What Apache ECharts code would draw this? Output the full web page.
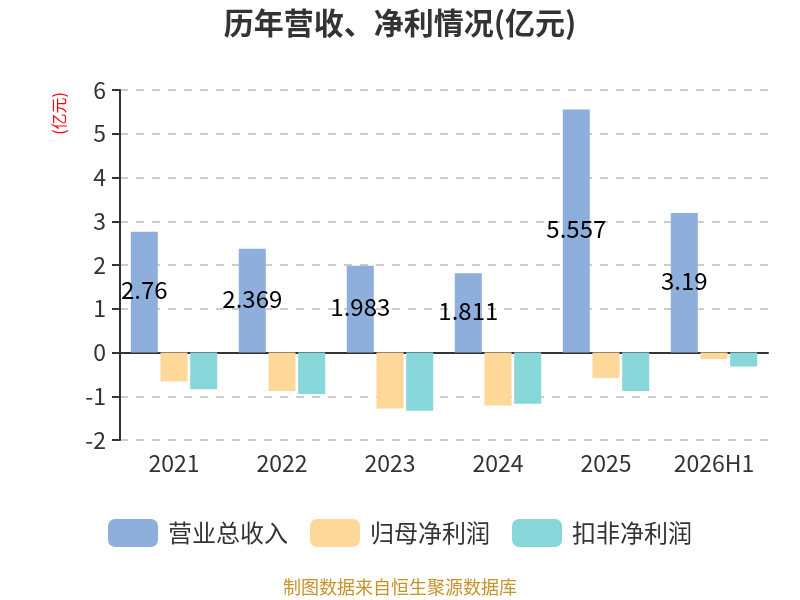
<!DOCTYPE html>
<html>
<head>
<meta charset="utf-8">
<script src="https://cdn.jsdelivr.net/npm/echarts@6/dist/echarts.min.js"></script>
<style>
    html, body { margin: 0; padding: 0; background: #fff; }
    #main { width: 800px; height: 600px; }
</style>
</head>
<body>
<div id="main"></div>
<script>
var years = ['2021', '2022', '2023', '2024', '2025', '2026H1'];
var revenue = [2.76, 2.369, 1.983, 1.811, 5.557, 3.19];
var netProfit = [-0.66, -0.88, -1.28, -1.21, -0.58, -0.15];
var deductedProfit = [-0.84, -0.95, -1.33, -1.17, -0.88, -0.32];
var seriesNames = ['营业总收入', '归母净利润', '扣非净利润'];

var myChart = echarts.init(document.getElementById('main'));
var font = '"Noto Sans CJK SC", "Noto Sans", sans-serif';

option = {
    textStyle: { fontFamily: font },
    title: {
        text: '历年营收、净利情况(亿元)',
        left: 'center',
        top: 3,
        textStyle: { fontSize: 30, fontWeight: 'bold', color: '#333', fontFamily: font }
    },
    color: ['#8eaedb', '#fed898', '#87d6d9'],
    legend: {
        data: seriesNames,
        bottom: 48,
        itemWidth: 50,
        itemHeight: 28,
        itemGap: 22,
        icon: 'roundRect',
        textStyle: { fontSize: 24, color: '#333', fontFamily: font, padding: [0, 0, 0, 5] }
    },
    grid: { left: 120, right: 32, top: 90, bottom: 160 },
    xAxis: {
        type: 'category',
        data: years,
        axisLine: { lineStyle: { color: '#333', width: 2 } },
        axisTick: { length: 7, lineStyle: { width: 2 } },
        axisLabel: { fontSize: 23, color: '#333', margin: 12 }
    },
    yAxis: {
        type: 'value',
        min: -2,
        max: 6,
        interval: 1,
        axisLine: { show: true, lineStyle: { color: '#333', width: 2 } },
        axisTick: { show: true, length: 8, lineStyle: { width: 2 } },
        axisLabel: { fontSize: 23, color: '#333', margin: 14 },
        splitLine: { lineStyle: { type: [8, 8], color: '#ccc', width: 2 } }
    },
    graphic: [{
        type: 'text',
        left: 51,
        top: 92,
        rotation: Math.PI / 2,
        style: { text: '(亿元)', fill: 'red', fontSize: 16, fontFamily: font }
    }, {
        type: 'text',
        left: 'center',
        top: 578,
        style: { text: '制图数据来自恒生聚源数据库', fill: '#c8922a', fontSize: 18, fontFamily: font }
    }],
    series: [{
        name: seriesNames[0],
        type: 'bar',
        data: revenue,
        barWidth: 27,
        barGap: '10%',
        label: { show: true, position: 'inside', color: '#000', fontSize: 24, offset: [0, -2] }
    }, {
        name: seriesNames[1],
        type: 'bar',
        data: netProfit,
        barWidth: 27,
        barGap: '10%'
    }, {
        name: seriesNames[2],
        type: 'bar',
        data: deductedProfit,
        barWidth: 27,
        barGap: '10%'
    }]
};

myChart.setOption(option);
window.addEventListener("resize", function () {
    myChart.resize();
});
</script>
</body>
</html>
